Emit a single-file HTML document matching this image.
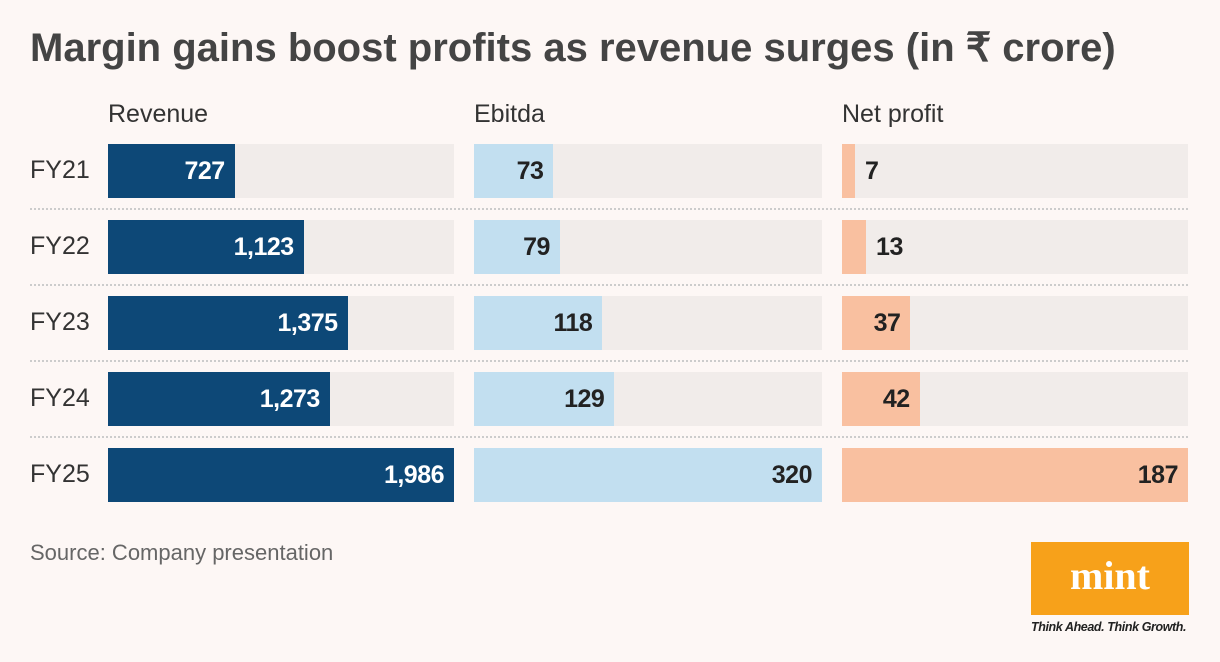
<!DOCTYPE html>
<html><head><meta charset="utf-8">
<style>
body{margin:0;width:1220px;height:662px;background:#fdf7f5;font-family:"Liberation Sans",sans-serif;position:relative;overflow:hidden}
#title{position:absolute;left:30px;top:25px;font-size:40px;font-weight:bold;color:#444;letter-spacing:0px}
.hdr{position:absolute;top:100px;font-size:25px;color:#333}
.fy{position:absolute;left:30px;font-size:25px;color:#333}
.sep{position:absolute;left:30px;width:1158px;border-top:2px dotted #ccc}
.track{position:absolute;background:#f1ecea}
.bar{position:absolute;left:0;top:0;height:100%}
.val{position:absolute;top:0;height:100%;line-height:54px;font-size:25px;font-weight:bold;color:#222;letter-spacing:-0.5px}
#source{position:absolute;left:30px;top:540px;font-size:22px;color:#666}
#logo{position:absolute;left:1031px;top:542px;width:158px;height:73px;background:#f7a11a;color:#fff;font-family:"Liberation Serif",serif;font-weight:bold;font-size:40px;text-align:center;line-height:68px}
#tag{position:absolute;left:1031px;top:620px;font-size:12.5px;font-style:italic;font-weight:bold;color:#222;letter-spacing:-0.4px}
</style></head><body>
<div id="title">Margin gains boost profits as revenue surges (in ₹ crore)</div>
<div class="hdr" style="left:108px">Revenue</div>
<div class="hdr" style="left:474px">Ebitda</div>
<div class="hdr" style="left:842px">Net profit</div>
<div id="chart"></div>
<div id="source">Source: Company presentation</div>
<div id="logo">mint</div>
<div id="tag">Think Ahead. Think Growth.</div>
<script>
const years = ["FY21","FY22","FY23","FY24","FY25"];
const revenue = [727,1123,1375,1273,1986];
const ebitda = [73,79,118,129,320];
const netProfit = [7,13,37,42,187];
const cols=[
 {vals:revenue,x:108,w:346,color:"#0d4877",text:"#fff",name:"revenue"},
 {vals:ebitda,x:474,w:348,color:"#c2dff0",text:"#222",name:"ebitda"},
 {vals:netProfit,x:842,w:346,color:"#f9c0a0",text:"#222",name:"net-profit"}
];
const chart=document.getElementById('chart');
const rowY=i=>144+i*76;
const fmt=v=>v.toLocaleString('en-US');
years.forEach((y,i)=>{
 const l=document.createElement('div');l.className='fy';l.textContent=y;
 l.style.top=(rowY(i)+12)+'px';
 
 
 chart.appendChild(l);
 if(i>0){const s=document.createElement('div');s.className='sep';s.style.top=(rowY(i)-12)+'px';
 
 
 chart.appendChild(s);}
 cols.forEach(c=>{
  const max=Math.max(...c.vals);
  const t=document.createElement('div');t.className='track';
  t.style.left=c.x+'px';t.style.top=rowY(i)+'px';t.style.width=c.w+'px';t.style.height='54px';
  
  
  const bw=c.w*c.vals[i]/max;
  const b=document.createElement('div');b.className='bar';b.style.width=bw+'px';b.style.background=c.color;
  
  
  t.appendChild(b);
  const v=document.createElement('div');v.className='val';v.textContent=fmt(c.vals[i]);
  
  
  if(bw>45){v.style.right=(c.w-bw+10)+'px';v.style.color=c.text;}
  else{v.style.left=(bw+10)+'px';v.style.color='#222';}
  t.appendChild(v);
  chart.appendChild(t);
 });
});
</script>
</body></html>
